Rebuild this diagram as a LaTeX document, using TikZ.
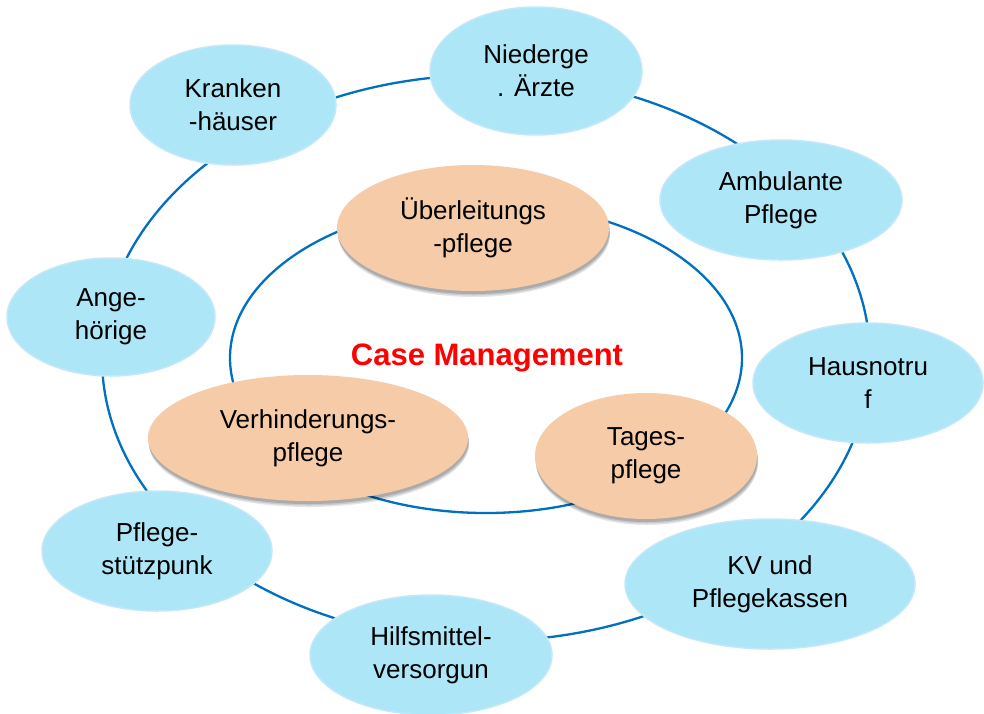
\documentclass[tikz,border=0pt]{standalone}
\usepackage{fontspec}
\setmainfont{Liberation Sans}
\usetikzlibrary{shapes.geometric,shadows}
\definecolor{ringblue}{RGB}{0,112,192}
\definecolor{bluefill}{RGB}{173,230,246}
\definecolor{blueedge}{RGB}{196,232,247}
\definecolor{orangefill}{RGB}{245,203,168}
\definecolor{cmred}{RGB}{255,0,0}
\begin{document}
\begin{tikzpicture}[x=1pt,y=-1pt,
  ringline/.style={ellipse,draw=ringblue,line width=2.3pt,inner sep=0pt,outer sep=0pt},
  bluenode/.style={ellipse,fill=bluefill,draw=blueedge,line width=1.5pt,inner sep=0pt,align=center,font=\fontsize{26}{33}\selectfont},
  orangenode/.style={ellipse,fill=orangefill,draw=none,inner sep=0pt,align=center,font=\fontsize{26}{33}\selectfont,
    drop shadow={shadow xshift=1pt,shadow yshift=-6pt,opacity=0.10,fill=black},
    drop shadow={shadow xshift=1pt,shadow yshift=-4.5pt,opacity=0.12,fill=black},
    drop shadow={shadow xshift=0.5pt,shadow yshift=-3pt,opacity=0.15,fill=black}},
  cmtext/.style={font=\fontsize{31}{36}\bfseries\selectfont,text=cmred,inner sep=0pt}
]
\useasboundingbox (0,0) rectangle (984,713);
\fill[white] (0,0) rectangle (984,713);
% rings
\node[ringline,minimum width=768pt,minimum height=566pt] (outerring) at (486,358) {};
\node[ringline,minimum width=512pt,minimum height=310pt] (innerring) at (486,358) {};
% outer nodes
\node[bluenode,minimum width=206pt,minimum height=120pt] (kh) at (233,105) {Kranken\\-häuser};
\node[bluenode,minimum width=212pt,minimum height=128pt] (na) at (536,71) {Niederge\\. Ärzte};
\node[bluenode,minimum width=242pt,minimum height=120pt] (ap) at (781,200) {Ambulante\\Pflege};
\node[bluenode,minimum width=230pt,minimum height=120pt] (hn) at (868,383) {Hausnotru\\f};
\node[bluenode,minimum width=290pt,minimum height=130pt] (kv) at (770,584) {KV und\\Pflegekassen};
\node[bluenode,minimum width=242pt,minimum height=120pt] (hm) at (431,655) {Hilfsmittel-\\versorgun};
\node[bluenode,minimum width=230pt,minimum height=120pt] (ps) at (157,551) {Pflege-\\stützpunk};
\node[bluenode,minimum width=208pt,minimum height=118pt] (ah) at (111,317) {Ange-\\hörige};
% inner nodes
\node[orangenode,minimum width=272pt,minimum height=126pt] (ue) at (473,228) {Überleitungs\\-pflege};
\node[orangenode,minimum width=320pt,minimum height=126pt] (vp) at (308,438) {Verhinderungs-\\pflege};
\node[orangenode,minimum width=222pt,minimum height=126pt] (tp) at (646,456) {Tages-\\pflege};
% centre label
\node[cmtext,anchor=base] (cm) at (487,365) {Case Management};
\end{tikzpicture}
\end{document}
